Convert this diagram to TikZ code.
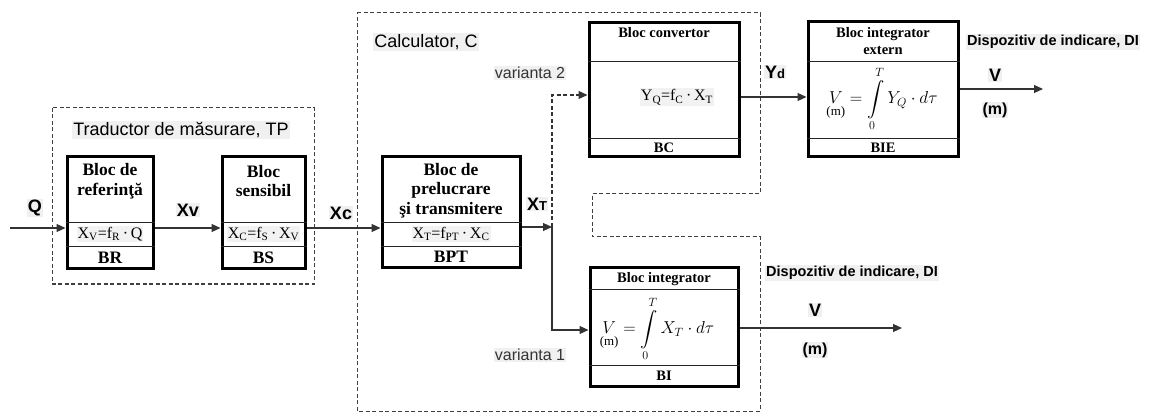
\documentclass[tikz,border=0pt]{standalone}
\usepackage{amsmath}
\usepackage{fontspec}
\setmainfont{Liberation Serif}
\setsansfont{Liberation Sans}
\usetikzlibrary{arrows.meta,calc}
\begin{document}
\begin{tikzpicture}[x=1pt,y=-1pt,
  blk/.style={draw=black, line width=3pt, fill=white, inner sep=0pt},
  sep/.style={draw=black!85, line width=0.9pt},
  arr/.style={draw=black!80, line width=1.1pt, -{Triangle[length=9pt,width=8pt]}},
  darr/.style={arr, dash pattern=on 4pt off 2.5pt},
  dbox/.style={draw=black!75, line width=1pt, dash pattern=on 4pt off 2.5pt},
  lab/.style={font=\sffamily\fontsize{18}{20}\selectfont, fill=black!6, inner sep=1pt},
  vlab/.style={font=\sffamily\fontsize{16}{18}\selectfont, text=black!80, fill=black!6, inner sep=1pt},
  blab/.style={font=\sffamily\bfseries\fontsize{18}{20}\selectfont, fill=black!6, inner sep=1pt},
  mlab/.style={font=\sffamily\bfseries\fontsize{16}{18}\selectfont, fill=black!6, inner sep=1pt},
  dlab/.style={font=\sffamily\bfseries\fontsize{14.5}{16}\selectfont, fill=black!6, inner sep=1pt},
  bt/.style={font=\bfseries\fontsize{17.5}{19.5}\selectfont, align=center, inner sep=1pt},
  bts/.style={font=\bfseries\fontsize{14.5}{17}\selectfont, align=center, inner sep=1pt},
  fx/.style={font=\fontsize{16}{18}\selectfont, fill=black!5, inner sep=1pt},
  fi/.style={font=\fontsize{18.5}{20}\selectfont, inner sep=1pt}
]
\useasboundingbox (0,0) rectangle (1149,414);

% dashed enclosures
\draw[dbox] (52,108) rectangle (314,284);
\draw[dbox] (357,13) -- (760,13) -- (760,194) -- (592,194) -- (592,237) -- (760,237) -- (760,411) -- (357,411) -- cycle;

\node[lab] (tp) at (181,130) {Traductor de măsurare, TP};
\node[lab] (calc) at (426,42) {Calculator, C};

% blocks
\node[blk, minimum width=86pt, minimum height=112pt] (BR) at (110,213) {};
\node[blk, minimum width=83pt, minimum height=112pt] (BS) at (263.5,213) {};
\node[blk, minimum width=138pt, minimum height=111pt] (BPT) at (451,212.5) {};
\node[blk, minimum width=150pt, minimum height=134pt] (BC) at (664,90) {};
\node[blk, minimum width=150pt, minimum height=135pt] (BIE) at (883,89.5) {};
\node[blk, minimum width=148pt, minimum height=118pt] (BI) at (664,327) {};

% inner separators
\foreach \b in {BR,BS,BPT}{
  \draw[sep] (\b.west |- 0,222) -- (\b.east |- 0,222);
  \draw[sep] (\b.west |- 0,246) -- (\b.east |- 0,246);
}
\foreach \b in {BC,BIE}{
  \draw[sep] (\b.west |- 0,61) -- (\b.east |- 0,61);
  \draw[sep] (\b.west |- 0,138) -- (\b.east |- 0,138);
}
\draw[sep] (BI.west |- 0,289) -- (BI.east |- 0,289);
\draw[sep] (BI.west |- 0,365) -- (BI.east |- 0,365);

% block texts
\node[bt] (brt) at (110,181) {Bloc de\\referinţă};
\node[fx] (brf) at (110,234) {X\textsubscript{V}=f\textsubscript{R}\,·\,Q};
\node[bt] (brn) at (110,257.5) {BR};

\node[bt] (bst) at (263.5,181) {Bloc\\sensibil};
\node[fx] (bsf) at (263.5,234) {X\textsubscript{C}=f\textsubscript{S}\,·\,X\textsubscript{V}};
\node[bt] (bsn) at (263.5,257.5) {BS};

\node[bt] (bptt) at (451,190.5) {Bloc de\\prelucrare\\şi transmitere};
\node[fx] (bptf) at (451,234) {X\textsubscript{T}=f\textsubscript{PT}\,·\,X\textsubscript{C}};
\node[bt] (bptn) at (451,257) {BPT};

\node[bts] (bct) at (664,33) {Bloc convertor};
\node[fx] (bcf) at (677,97) {Y\textsubscript{Q}=f\textsubscript{C}\,·\,X\textsubscript{T}};
\node[bts] (bcn) at (664,147.5) {BC};

\node[bts] (biet) at (883,41.5) {Bloc integrator\\extern};
\node[fi] (bief) at (882,99) {$\displaystyle \underset{\text{(m)}}{V}=\int\limits_0^T Y_Q\cdot d\tau$};
\node[bts] (bien) at (883,147.5) {BIE};

\node[bts] (bit) at (664,279) {Bloc integrator};
\node[fi] (bif) at (657,329) {$\displaystyle \underset{\text{(m)}}{V}=\int\limits_0^T X_T\cdot d\tau$};
\node[bts] (bin) at (664,376) {BI};

% connectors
\coordinate (qin) at (10,228);
\coordinate (xt) at (552,227);
\coordinate (v1) at (552,330);
\coordinate (v2) at (552,95);
\coordinate (ydy) at (0,97);
\coordinate (vo1) at (1043,89);
\coordinate (vo2) at (902,328);

\draw[arr] (qin) -- (qin -| BR.west);
\draw[arr] (BR.east |- qin) -- (BS.west |- qin);
\draw[arr] (BS.east |- qin) -- (BPT.west |- qin);
\draw[arr] (BPT.east |- xt) -- (xt);
\draw[arr] (xt) -- (v1) -- (v1 -| BI.west);
\draw[darr] (xt) -- (v2) -- (v2 -| BC.west);
\draw[arr] (BC.east |- ydy) -- (BIE.west |- ydy);
\draw[arr] (BIE.east |- vo1) -- (vo1);
\draw[arr] (BI.east |- vo2) -- (vo2);

% labels
\node[blab] (lq) at (35,208) {Q};
\node[blab] (lxv) at (188,210) {Xv};
\node[blab] (lxc) at (341,213) {Xc};
\node[blab] (lxt) at (537,204) {X{\fontsize{13}{14}\selectfont T}};
\node[blab] (lyd) at (775,72) {Y{\fontsize{13}{14}\selectfont d}};
\node[blab] (lv1) at (995,75) {V};
\node[mlab] (lm1) at (995,110) {(m)};
\node[dlab] (ld1) at (1053,42) {Dispozitiv de indicare, DI};
\node[blab] (lv2) at (815,310) {V};
\node[mlab] (lm2) at (815,350) {(m)};
\node[dlab] (ld2) at (852,273) {Dispozitiv de indicare, DI};
\node[vlab] (va2) at (530,73) {varianta 2};
\node[vlab] (va1) at (530,355) {varianta 1};
\end{tikzpicture}
\end{document}
